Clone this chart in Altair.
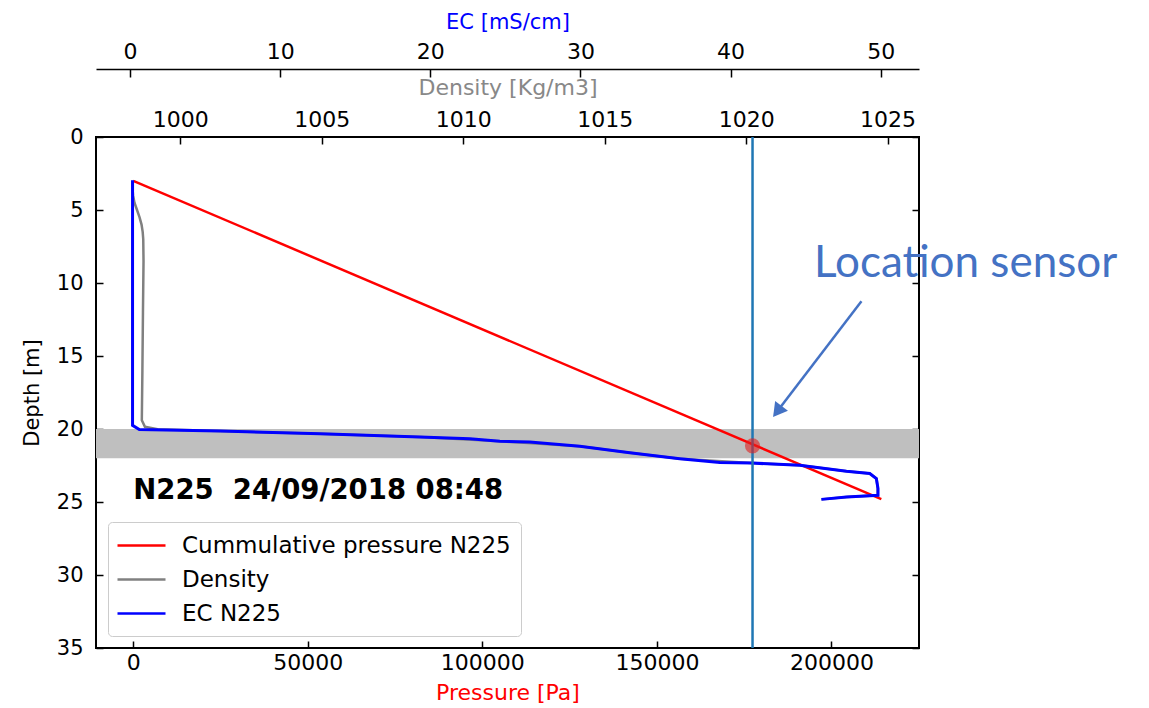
import altair as alt
import pandas as pd

# ---------------- data ----------------
series_names = ["Cummulative pressure N225", "Density", "EC N225"]
series_colors = ["#ff0000", "#808080", "#0000ff"]

pressure_depth = [3.0, 24.8]
pressure_pa = [0, 214300]

density_depth = [3.0, 3.5, 4.0, 4.5, 5.0, 5.5, 6.0, 6.5, 7.0, 8.5, 12.0, 16.0, 19.4, 19.85,
                 20.02, 20.14, 20.32, 20.55, 20.84, 21.18, 21.62, 22.03, 22.33, 22.49, 22.90,
                 23.05, 23.40, 24.08, 24.54, 24.66, 24.82]
density_kgm3 = [998.31, 998.31, 998.33, 998.38, 998.47, 998.56, 998.63, 998.67, 998.69, 998.70,
                998.68, 998.66, 998.64, 998.75, 999.2, 1001.40, 1004.94, 1008.47, 1011.30,
                1014.12, 1015.89, 1017.66, 1020.19, 1021.90, 1023.55, 1024.37, 1024.61,
                1024.65, 1024.65, 1023.55, 1022.66]

ec_depth = [2.97, 19.75, 20.04, 20.14, 20.32, 20.55, 20.66, 20.84, 20.89, 21.18, 21.62, 22.03,
            22.30, 22.33, 22.49, 22.90, 23.05, 23.40, 24.08, 24.54, 24.66, 24.82]
ec_mscm = [0.17, 0.17, 0.62, 6.0, 12.65, 19.31, 22.64, 24.63, 26.63, 29.96, 33.29, 36.62,
           39.28, 41.39, 44.61, 47.72, 49.27, 49.71, 49.82, 49.82, 47.72, 46.05]

band_depth = [20.0, 22.0]
sensor_pressure = [177400]
sensor_depth = [21.15]

station_label = ["N225\u00a0 24/09/2018 08:48"]
station_pos = [0, 24.25]  # pressure, depth

annot_text = ["Location sensor"]
annot_pos = [195000, 9.59]
arrow_pressure = [208600, 184500]
arrow_depth = [11.25, 18.79]

pressure_ticks = [0, 50000, 100000, 150000, 200000]
density_ticks = [1000, 1005, 1010, 1015, 1020, 1025]
ec_ticks = [0, 10, 20, 30, 40, 50]
depth_ticks = [0, 5, 10, 15, 20, 25, 30, 35]

# ---------------- tables ----------------
press_df = pd.DataFrame({"p": pressure_pa, "depth": pressure_depth,
                         "series": series_names[0], "i": range(len(pressure_pa))})
dens_df = pd.DataFrame({"density": density_kgm3, "depth": density_depth,
                        "series": series_names[1], "i": range(len(density_kgm3))})
ec_df = pd.DataFrame({"ec": ec_mscm, "depth": ec_depth,
                      "series": series_names[2], "i": range(len(ec_mscm))})
band_df = pd.DataFrame({"top": [band_depth[0]], "bottom": [band_depth[1]]})
sensor_df = pd.DataFrame({"p": sensor_pressure, "depth": sensor_depth})
station_df = pd.DataFrame({"p": [station_pos[0]], "depth": [station_pos[1]], "t": station_label})
annot_df = pd.DataFrame({"p": [annot_pos[0]], "depth": [annot_pos[1]], "t": annot_text})
arrow_df = pd.DataFrame({"p": arrow_pressure, "depth": arrow_depth, "i": [0, 1]})
head_df = pd.DataFrame({"p": [arrow_pressure[1]], "depth": [arrow_depth[1]]})

# ---------------- styling ----------------
W, H = 823, 511
FONT = "DejaVu Sans"
FS = 22
P_SCALE = alt.Scale(domain=[-10680, 225090], nice=False, zero=False)
D_SCALE = alt.Scale(domain=[997.02, 1026.11], nice=False, zero=False)
E_SCALE = alt.Scale(domain=[-2.264, 52.55], nice=False, zero=False)
Y_SCALE = alt.Scale(domain=[0, 35], reverse=True, nice=False, zero=False)
C_SCALE = alt.Scale(domain=series_names, range=series_colors)

common_axis = dict(grid=False, domain=False, tickColor="black", tickWidth=1.5,
                   labelFont=FONT, labelFontSize=FS, labelColor="black",
                   titleFont=FONT, titleFontSize=FS, titleFontWeight="normal")

legend = alt.Legend(title=None, orient="none", legendX=12, legendY=385,
                    symbolType="M-2,0H2", symbolSize=576, symbolStrokeWidth=2.5,
                    symbolOffset=10, labelOffset=27, labelLimit=600,
                    labelFont=FONT, labelFontSize=23, labelColor="black",
                    fillColor="white", strokeColor="#cccccc", cornerRadius=4,
                    padding=10, rowPadding=8)

press_axis = alt.Axis(orient="bottom", values=pressure_ticks, format="d", offset=-7, tickSize=7,
                      labelPadding=4, title="Pressure [Pa]", titleColor="red", titlePadding=9,
                      **common_axis)
depth_axis = alt.Axis(orient="left", values=depth_ticks, format="d", offset=-7, tickSize=7,
                      labelPadding=13, title="Depth [m]", titleColor="black", titlePadding=14,
                      grid=False, domain=False, tickColor="black", tickWidth=1.5,
                      labelFont=FONT, labelFontSize=21, labelColor="black",
                      titleFont=FONT, titleFontSize=21, titleFontWeight="normal")
right_axis = alt.Axis(orient="right", values=depth_ticks, offset=-7, tickSize=7, labels=False,
                      title=None, grid=False, domain=False, tickColor="black", tickWidth=1.5)
dens_axis = alt.Axis(orient="top", values=density_ticks, format="d", offset=-7, tickSize=7,
                     labelPadding=6, title="Density [Kg/m3]", titleColor="#888888",
                     titlePadding=9, **common_axis)
ec_axis = alt.Axis(orient="top", values=ec_ticks, format="d", offset=60, tickSize=8,
                   labelPadding=6, title="EC [mS/cm]", titleColor="#0000ff", titlePadding=8,
                   grid=False, domain=False, tickColor="black", tickWidth=1.5,
                   labelFont=FONT, labelFontSize=FS, labelColor="black",
                   titleFont=FONT, titleFontSize=21, titleFontWeight="normal")
ec_domain_axis = alt.Axis(orient="top", offset=68, ticks=False, labels=False, title=None,
                          grid=False, domain=True, domainColor="black", domainWidth=1.5)

band = alt.Chart(band_df).mark_rect(color="#bfbfbf").encode(
    y=alt.Y("top:Q", scale=Y_SCALE, axis=None), y2="bottom:Q",
    x=alt.value(0), x2=alt.value(W))

red_line = alt.Chart(press_df).mark_line(strokeWidth=2.5).encode(
    x=alt.X("p:Q", scale=P_SCALE, axis=press_axis),
    y=alt.Y("depth:Q", scale=Y_SCALE, axis=depth_axis),
    order="i:Q",
    color=alt.Color("series:N", scale=C_SCALE, legend=legend))

dens_line = alt.Chart(dens_df).mark_line(strokeWidth=2.5).encode(
    x=alt.X("density:Q", scale=D_SCALE, axis=dens_axis),
    y=alt.Y("depth:Q", scale=Y_SCALE, axis=None),
    order="i:Q",
    color=alt.Color("series:N", scale=C_SCALE, legend=legend))

ec_line = alt.Chart(ec_df).mark_line(strokeWidth=3).encode(
    x=alt.X("ec:Q", scale=E_SCALE, axis=ec_axis),
    y=alt.Y("depth:Q", scale=Y_SCALE, axis=right_axis),
    order="i:Q",
    color=alt.Color("series:N", scale=C_SCALE, legend=legend))

ec_dom = alt.Chart(ec_df).mark_line(strokeOpacity=0).encode(
    x=alt.X("ec:Q", scale=E_SCALE, axis=ec_domain_axis),
    y=alt.Y("depth:Q", scale=Y_SCALE, axis=None),
    order="i:Q")

rule = alt.Chart(sensor_df).mark_rule(color="#1f77b4", strokeWidth=2.5).encode(
    x=alt.X("p:Q", scale=P_SCALE, axis=None))

dot = alt.Chart(sensor_df).mark_circle(color="#e02020", opacity=0.6, size=230).encode(
    x=alt.X("p:Q", scale=P_SCALE, axis=None),
    y=alt.Y("depth:Q", scale=Y_SCALE, axis=None))

station = alt.Chart(station_df).mark_text(font=FONT, fontSize=27.5, fontWeight="bold",
                                          align="left", baseline="middle", color="black").encode(
    x=alt.X("p:Q", scale=P_SCALE, axis=None),
    y=alt.Y("depth:Q", scale=Y_SCALE, axis=None), text="t:N")

annot = alt.Chart(annot_df).mark_text(font="Lato", fontSize=44, align="left",
                                      baseline="alphabetic", color="#4472C4").encode(
    x=alt.X("p:Q", scale=P_SCALE, axis=None),
    y=alt.Y("depth:Q", scale=Y_SCALE, axis=None), text="t:N")

arrow = alt.Chart(arrow_df).mark_line(color="#4472C4", strokeWidth=2.5).encode(
    x=alt.X("p:Q", scale=P_SCALE, axis=None),
    y=alt.Y("depth:Q", scale=Y_SCALE, axis=None), order="i:Q")

head = alt.Chart(head_df).mark_point(shape="triangle-up", filled=True, color="#4472C4",
                                     opacity=1, size=260, angle=217.4).encode(
    x=alt.X("p:Q", scale=P_SCALE, axis=None),
    y=alt.Y("depth:Q", scale=Y_SCALE, axis=None))

chart = alt.layer(band, red_line, dens_line, ec_line, ec_dom, rule, dot, station, annot,
                  arrow, head).resolve_scale(
    x="independent", y="independent"
).properties(
    width=W, height=H,
    padding={"left": 88, "top": 129, "right": 215, "bottom": 55},
    autosize=alt.AutoSizeParams(type="none"),
).configure_view(stroke="black", strokeWidth=2)

chart.save("out.html", embed_options={"renderer": "svg", "actions": False})
